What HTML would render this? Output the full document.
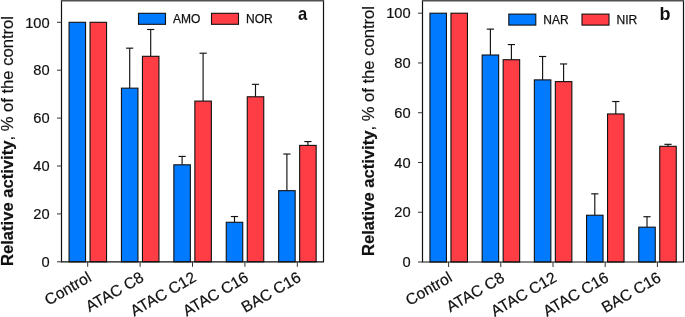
<!DOCTYPE html>
<html><head><meta charset="utf-8"><style>
html,body{margin:0;padding:0;background:#fff;width:685px;height:317px;overflow:hidden}
svg{display:block;will-change:transform}
text{font-family:"Liberation Sans",sans-serif;fill:#111}
.yl{font-size:15.3px;text-anchor:end;stroke:#111;stroke-width:0.2px}
.xl{font-size:15.7px;text-anchor:end;stroke:#111;stroke-width:0.2px}
.lg{font-size:12px;stroke:#111;stroke-width:0.25px}
.lt{font-size:18px;font-weight:bold}
.ti{font-size:16.6px;text-anchor:middle;stroke:#111;stroke-width:0.2px}
.b{stroke:#111;stroke-width:1.1}
.e{stroke:#111;stroke-width:1.15}
.f{fill:none;stroke:#111;stroke-width:1.2}
.t{stroke:#333;stroke-width:1}
</style></head><body>
<svg width="685" height="317" viewBox="0 0 685 317">
<rect x="69.05" y="22.3" width="16.5" height="239.5" fill="#007BFF" class="b"/>
<rect x="90.05" y="22.3" width="16.5" height="239.5" fill="#FF3D44" class="b"/>
<line x1="129.7" y1="88.16" x2="129.7" y2="48.17" class="e"/>
<line x1="126.1" y1="48.17" x2="133.3" y2="48.17" class="e"/>
<rect x="121.45" y="88.16" width="16.5" height="173.64" fill="#007BFF" class="b"/>
<line x1="150.7" y1="56.31" x2="150.7" y2="29.49" class="e"/>
<line x1="147.1" y1="29.49" x2="154.3" y2="29.49" class="e"/>
<rect x="142.45" y="56.31" width="16.5" height="205.49" fill="#FF3D44" class="b"/>
<line x1="182.1" y1="164.8" x2="182.1" y2="156.42" class="e"/>
<line x1="178.5" y1="156.42" x2="185.7" y2="156.42" class="e"/>
<rect x="173.85" y="164.8" width="16.5" height="97" fill="#007BFF" class="b"/>
<line x1="203.1" y1="101.1" x2="203.1" y2="53.2" class="e"/>
<line x1="199.5" y1="53.2" x2="206.7" y2="53.2" class="e"/>
<rect x="194.85" y="101.1" width="16.5" height="160.7" fill="#FF3D44" class="b"/>
<line x1="234.5" y1="222.28" x2="234.5" y2="216.53" class="e"/>
<line x1="230.9" y1="216.53" x2="238.1" y2="216.53" class="e"/>
<rect x="226.25" y="222.28" width="16.5" height="39.52" fill="#007BFF" class="b"/>
<line x1="255.5" y1="96.78" x2="255.5" y2="84.33" class="e"/>
<line x1="251.9" y1="84.33" x2="259.1" y2="84.33" class="e"/>
<rect x="247.25" y="96.78" width="16.5" height="165.02" fill="#FF3D44" class="b"/>
<line x1="286.9" y1="190.67" x2="286.9" y2="154.03" class="e"/>
<line x1="283.3" y1="154.03" x2="290.5" y2="154.03" class="e"/>
<rect x="278.65" y="190.67" width="16.5" height="71.13" fill="#007BFF" class="b"/>
<line x1="307.9" y1="145.4" x2="307.9" y2="141.57" class="e"/>
<line x1="304.3" y1="141.57" x2="311.5" y2="141.57" class="e"/>
<rect x="299.65" y="145.4" width="16.5" height="116.4" fill="#FF3D44" class="b"/>
<path d="M61.5 0.5V261.8H323.5V0.5" class="f"/>
<rect x="60.9" y="0" width="263.2" height="1.5" fill="#505050"/>
<line x1="57" y1="261.8" x2="61.5" y2="261.8" class="t"/>
<text transform="translate(49.7 267) scale(0.96 1)" class="yl">0</text>
<line x1="57" y1="213.9" x2="61.5" y2="213.9" class="t"/>
<text transform="translate(49.7 219.1) scale(0.96 1)" class="yl">20</text>
<line x1="57" y1="166" x2="61.5" y2="166" class="t"/>
<text transform="translate(49.7 171.2) scale(0.96 1)" class="yl">40</text>
<line x1="57" y1="118.1" x2="61.5" y2="118.1" class="t"/>
<text transform="translate(49.7 123.3) scale(0.96 1)" class="yl">60</text>
<line x1="57" y1="70.2" x2="61.5" y2="70.2" class="t"/>
<text transform="translate(49.7 75.4) scale(0.96 1)" class="yl">80</text>
<line x1="57" y1="22.3" x2="61.5" y2="22.3" class="t"/>
<text transform="translate(49.7 27.5) scale(0.96 1)" class="yl">100</text>
<line x1="87.7" y1="261.8" x2="87.7" y2="266.8" class="t"/>
<text transform="translate(92.4 280.4) rotate(-30)" class="xl">Control</text>
<line x1="140.1" y1="261.8" x2="140.1" y2="266.8" class="t"/>
<text transform="translate(144.8 280.4) rotate(-30)" class="xl">ATAC C8</text>
<line x1="192.5" y1="261.8" x2="192.5" y2="266.8" class="t"/>
<text transform="translate(197.2 280.4) rotate(-30)" class="xl">ATAC C12</text>
<line x1="244.9" y1="261.8" x2="244.9" y2="266.8" class="t"/>
<text transform="translate(249.6 280.4) rotate(-30)" class="xl">ATAC C16</text>
<line x1="297.3" y1="261.8" x2="297.3" y2="266.8" class="t"/>
<text transform="translate(302 280.4) rotate(-30)" class="xl">BAC C16</text>
<rect x="138.5" y="13.3" width="27" height="11" fill="#007BFF" class="b"/>
<text x="173" y="23.1" class="lg">AMO</text>
<rect x="211.5" y="13.3" width="27" height="11" fill="#FF3D44" class="b"/>
<text x="246" y="23.1" class="lg">NOR</text>
<text transform="translate(297.9 20.3) scale(0.92 1)" class="lt">a</text>
<text transform="translate(12.8 141) rotate(-90)" class="ti"><tspan font-weight="bold">Relative activity</tspan>, % of the control</text>
<rect x="429.95" y="13.2" width="16.5" height="248.8" fill="#007BFF" class="b"/>
<rect x="450.95" y="13.2" width="16.5" height="248.8" fill="#FF3D44" class="b"/>
<line x1="490.4" y1="55" x2="490.4" y2="29.12" class="e"/>
<line x1="486.8" y1="29.12" x2="494" y2="29.12" class="e"/>
<rect x="482.15" y="55" width="16.5" height="207" fill="#007BFF" class="b"/>
<line x1="511.4" y1="59.73" x2="511.4" y2="44.55" class="e"/>
<line x1="507.8" y1="44.55" x2="515" y2="44.55" class="e"/>
<rect x="503.15" y="59.73" width="16.5" height="202.27" fill="#FF3D44" class="b"/>
<line x1="542.6" y1="79.88" x2="542.6" y2="56.49" class="e"/>
<line x1="539" y1="56.49" x2="546.2" y2="56.49" class="e"/>
<rect x="534.35" y="79.88" width="16.5" height="182.12" fill="#007BFF" class="b"/>
<line x1="563.6" y1="81.62" x2="563.6" y2="63.96" class="e"/>
<line x1="560" y1="63.96" x2="567.2" y2="63.96" class="e"/>
<rect x="555.35" y="81.62" width="16.5" height="180.38" fill="#FF3D44" class="b"/>
<line x1="594.8" y1="215.23" x2="594.8" y2="193.83" class="e"/>
<line x1="591.2" y1="193.83" x2="598.4" y2="193.83" class="e"/>
<rect x="586.55" y="215.23" width="16.5" height="46.77" fill="#007BFF" class="b"/>
<line x1="615.8" y1="113.96" x2="615.8" y2="101.52" class="e"/>
<line x1="612.2" y1="101.52" x2="619.4" y2="101.52" class="e"/>
<rect x="607.55" y="113.96" width="16.5" height="148.04" fill="#FF3D44" class="b"/>
<line x1="647" y1="227.17" x2="647" y2="216.72" class="e"/>
<line x1="643.4" y1="216.72" x2="650.6" y2="216.72" class="e"/>
<rect x="638.75" y="227.17" width="16.5" height="34.83" fill="#007BFF" class="b"/>
<line x1="668" y1="146.31" x2="668" y2="144.32" class="e"/>
<line x1="664.4" y1="144.32" x2="671.6" y2="144.32" class="e"/>
<rect x="659.75" y="146.31" width="16.5" height="115.69" fill="#FF3D44" class="b"/>
<path d="M422.5 1V262H683.5V1" class="f"/>
<rect x="421.9" y="0" width="262.2" height="1.5" fill="#505050"/>
<line x1="418" y1="262" x2="422.5" y2="262" class="t"/>
<text transform="translate(410.7 267.2) scale(0.96 1)" class="yl">0</text>
<line x1="418" y1="212.24" x2="422.5" y2="212.24" class="t"/>
<text transform="translate(410.7 217.44) scale(0.96 1)" class="yl">20</text>
<line x1="418" y1="162.48" x2="422.5" y2="162.48" class="t"/>
<text transform="translate(410.7 167.68) scale(0.96 1)" class="yl">40</text>
<line x1="418" y1="112.72" x2="422.5" y2="112.72" class="t"/>
<text transform="translate(410.7 117.92) scale(0.96 1)" class="yl">60</text>
<line x1="418" y1="62.96" x2="422.5" y2="62.96" class="t"/>
<text transform="translate(410.7 68.16) scale(0.96 1)" class="yl">80</text>
<line x1="418" y1="13.2" x2="422.5" y2="13.2" class="t"/>
<text transform="translate(410.7 18.4) scale(0.96 1)" class="yl">100</text>
<line x1="448.6" y1="262" x2="448.6" y2="267" class="t"/>
<text transform="translate(453.3 280.6) rotate(-30)" class="xl">Control</text>
<line x1="500.8" y1="262" x2="500.8" y2="267" class="t"/>
<text transform="translate(505.5 280.6) rotate(-30)" class="xl">ATAC C8</text>
<line x1="553" y1="262" x2="553" y2="267" class="t"/>
<text transform="translate(557.7 280.6) rotate(-30)" class="xl">ATAC C12</text>
<line x1="605.2" y1="262" x2="605.2" y2="267" class="t"/>
<text transform="translate(609.9 280.6) rotate(-30)" class="xl">ATAC C16</text>
<line x1="657.4" y1="262" x2="657.4" y2="267" class="t"/>
<text transform="translate(662.1 280.6) rotate(-30)" class="xl">BAC C16</text>
<rect x="508.8" y="14.1" width="27" height="11" fill="#007BFF" class="b"/>
<text x="543.3" y="23.9" class="lg">NAR</text>
<rect x="582" y="14.1" width="27" height="11" fill="#FF3D44" class="b"/>
<text x="616.5" y="23.9" class="lg">NIR</text>
<text transform="translate(659.6 19.8) scale(1 1)" class="lt">b</text>
<text transform="translate(374.2 131) rotate(-90)" class="ti"><tspan font-weight="bold">Relative activity</tspan>, % of the control</text>
</svg>
</body></html>
